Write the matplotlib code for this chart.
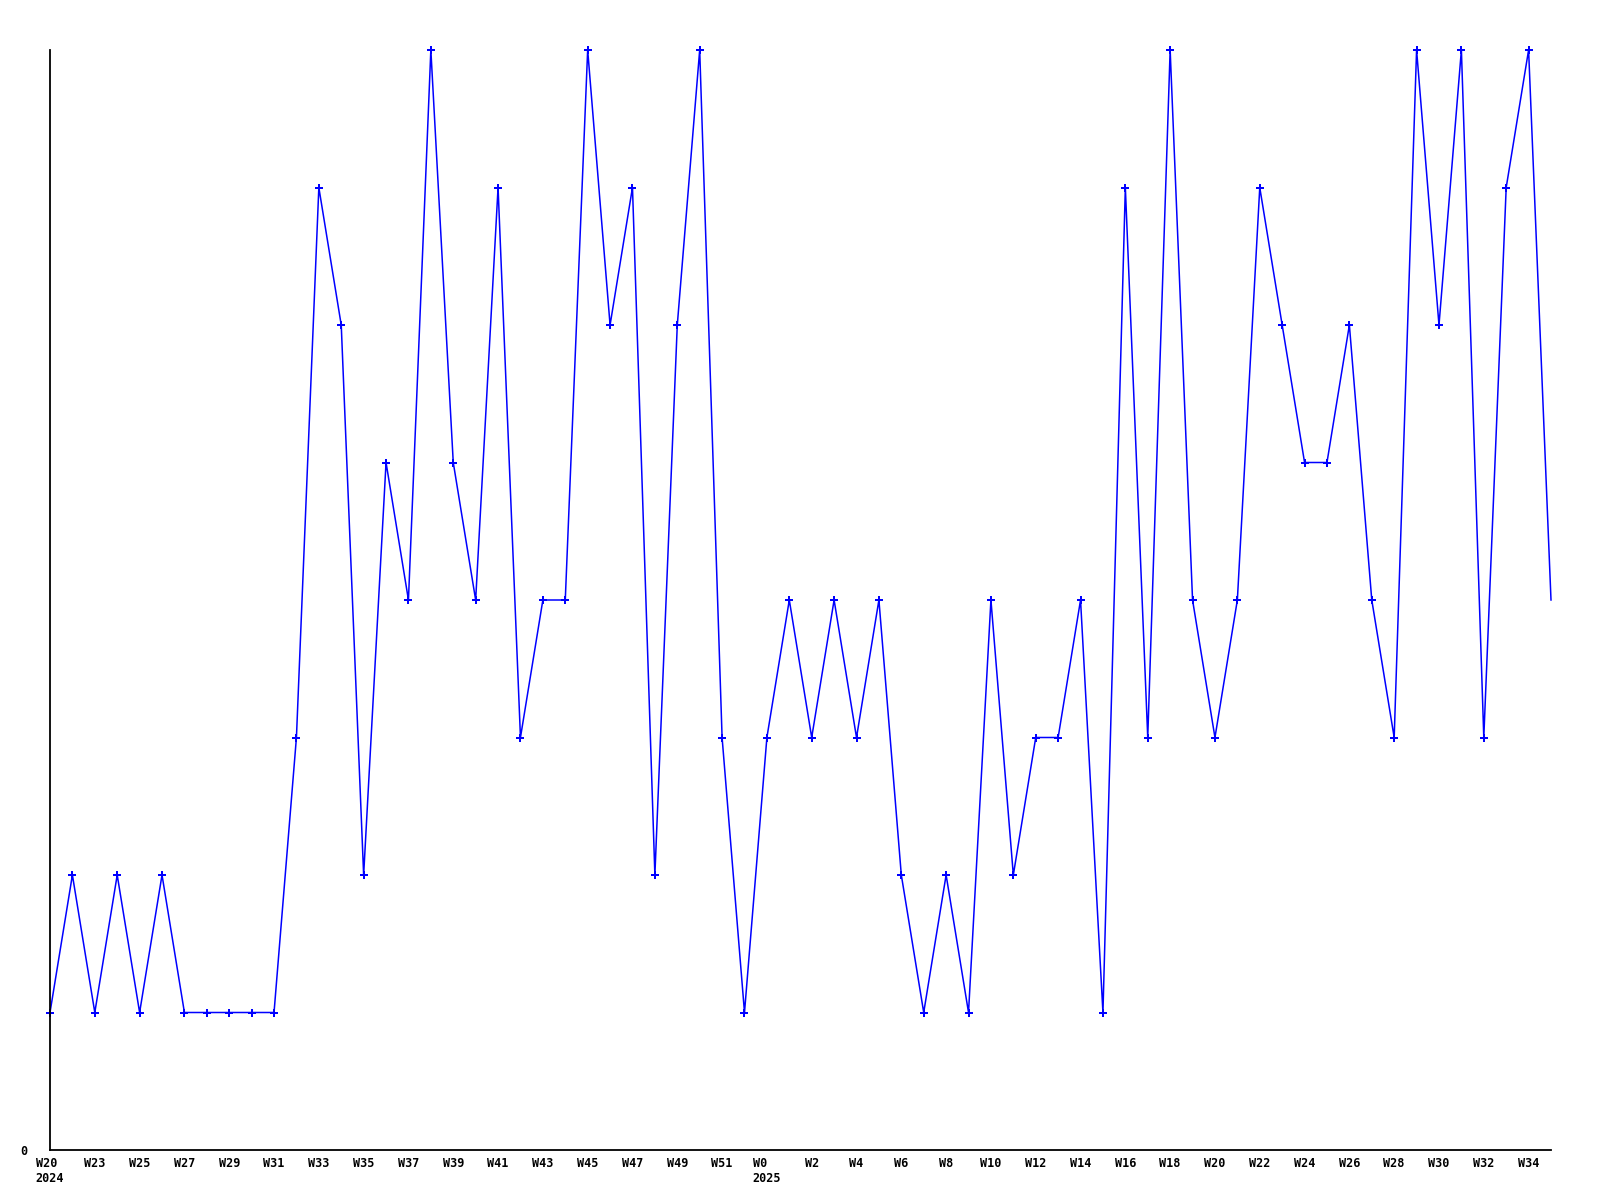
import matplotlib
matplotlib.use("Agg")
import matplotlib.pyplot as plt

# week labels for each point (2024 W20 .. 2025 W35)
weeks = (["W20", "W22"] + [f"W{w}" for w in range(23, 53)]
         + [f"W{w}" for w in range(0, 36)])
years = {0: "2024", 32: "2025"}

values = [1, 2, 1, 2, 1, 2, 1, 1, 1, 1,
          1, 3, 7, 6, 2, 5, 4, 8, 5, 4,
          7, 3, 4, 4, 8, 6, 7, 2, 6, 8,
          3, 1, 3, 4, 3, 4, 3, 4, 2, 1,
          2, 1, 4, 2, 3, 3, 4, 1, 7, 3,
          8, 4, 3, 4, 7, 6, 5, 5, 6, 4,
          3, 8, 6, 8, 3, 7, 8, 4]

xs = list(range(len(values)))

fig = plt.figure(figsize=(16, 12), dpi=100)
ax = fig.add_axes([50 / 1600, 50 / 1200, 1501 / 1600, 1100 / 1200])

ax.plot(xs, values, color="#0000ff", linewidth=1.1,
        marker="P", markersize=5.5, markeredgewidth=0,
        markevery=list(range(len(values) - 1)), clip_on=False)

ax.set_xlim(0, len(values) - 1)
ax.set_ylim(0, 8)

for s in ("top", "right"):
    ax.spines[s].set_visible(False)
for s in ("left", "bottom"):
    ax.spines[s].set_linewidth(1.3)
    ax.spines[s].set_color("black")

tick_pos = xs[::2]
tick_labels = []
for i in tick_pos:
    lab = weeks[i]
    if i in years:
        lab += "\n" + years[i]
    tick_labels.append(lab)

ax.set_xticks(tick_pos)
ax.set_xticklabels(tick_labels, fontfamily="DejaVu Sans Mono",
                   fontweight="bold", fontsize=8.5)
for t in ax.get_xticklabels():
    t.set_multialignment("left")
ax.set_yticks([0])
ax.set_yticklabels(["0"], fontfamily="DejaVu Sans Mono",
                   fontweight="bold", fontsize=8.5)
ax.tick_params(axis="both", length=0)
ax.tick_params(axis="x", pad=5)
ax.tick_params(axis="y", pad=16)

fig.savefig("out.png", dpi=100)
